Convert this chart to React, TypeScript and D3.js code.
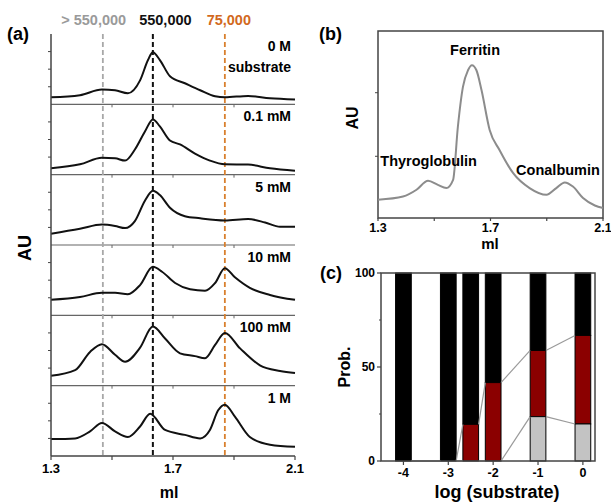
import React from "react";
import * as d3 from "d3";

// ---------- Panel (a): elution traces, [ml, relative AU within strip] ----------
const trace0M: [number, number][] = [
  [1.3, 0.1], [1.395, 0.13], [1.467, 0.21], [1.51, 0.2], [1.552, 0.157], [1.592, 0.34],
  [1.618, 0.63], [1.634, 0.74], [1.657, 0.63], [1.69, 0.4], [1.739, 0.3], [1.789, 0.2],
  [1.838, 0.114], [1.87, 0.1], [1.946, 0.12], [2.018, 0.086], [2.1, 0.07],
];
const trace01mM: [number, number][] = [
  [1.3, 0.09], [1.395, 0.147], [1.467, 0.24], [1.51, 0.233], [1.543, 0.2], [1.575, 0.357],
  [1.608, 0.614], [1.634, 0.786], [1.657, 0.686], [1.69, 0.486], [1.723, 0.43], [1.772, 0.3],
  [1.821, 0.2], [1.87, 0.147], [1.946, 0.143], [2.018, 0.09], [2.1, 0.057],
];
const trace5mM: [number, number][] = [
  [1.3, 0.16], [1.395, 0.23], [1.467, 0.29], [1.51, 0.27], [1.543, 0.24], [1.575, 0.34],
  [1.608, 0.63], [1.634, 0.77], [1.657, 0.71], [1.69, 0.53], [1.739, 0.41], [1.789, 0.38],
  [1.87, 0.35], [1.946, 0.37], [2.002, 0.32], [2.051, 0.26], [2.1, 0.26],
];
const trace10mM: [number, number][] = [
  [1.3, 0.22], [1.395, 0.26], [1.467, 0.32], [1.51, 0.32], [1.552, 0.3], [1.592, 0.43],
  [1.634, 0.69], [1.664, 0.62], [1.707, 0.46], [1.756, 0.37], [1.805, 0.35], [1.838, 0.46],
  [1.87, 0.67], [1.903, 0.54], [1.952, 0.39], [2.018, 0.29], [2.1, 0.22],
];
const trace100mM: [number, number][] = [
  [1.3, 0.14], [1.379, 0.22], [1.428, 0.48], [1.467, 0.59], [1.51, 0.44], [1.543, 0.34],
  [1.592, 0.54], [1.634, 0.84], [1.674, 0.67], [1.723, 0.46], [1.772, 0.42], [1.805, 0.39],
  [1.838, 0.58], [1.87, 0.75], [1.92, 0.53], [1.985, 0.29], [2.051, 0.21], [2.1, 0.18],
];
const trace1M: [number, number][] = [
  [1.3, 0.24], [1.379, 0.25], [1.428, 0.35], [1.467, 0.47], [1.51, 0.35], [1.552, 0.27],
  [1.592, 0.42], [1.625, 0.6], [1.674, 0.37], [1.739, 0.3], [1.789, 0.25], [1.821, 0.37],
  [1.848, 0.65], [1.87, 0.73], [1.903, 0.56], [1.952, 0.27], [2.018, 0.16], [2.1, 0.13],
];
const traces = [trace0M, trace01mM, trace5mM, trace10mM, trace100mM, trace1M];
const stripLabels = [["0 M", "substrate"], ["0.1 mM"], ["5 mM"], ["10 mM"], ["100 mM"], ["1 M"]];
const refLines = [1.47, 1.634, 1.87];
const refLabels = ["> 550,000", "550,000", "75,000"];
const refLabelAt = [1.44, 1.675, 1.883];
const refColors = ["#a8a8a8", "#111111", "#d9802e"];
const refTextColors = ["#9a9a9a", "#111111", "#d2691e"];
const mlTicksMajor = [1.3, 1.7, 2.1];
const mlTicksMinor = [1.5, 1.9];

// ---------- Panel (b): standards ----------
const standards: [number, number][] = [
  [1.3, 0.098], [1.389, 0.115], [1.437, 0.151], [1.478, 0.199], [1.513, 0.177], [1.543, 0.16],
  [1.567, 0.204], [1.584, 0.488], [1.602, 0.701], [1.62, 0.79], [1.634, 0.817], [1.65, 0.79],
  [1.668, 0.684], [1.697, 0.471], [1.732, 0.364], [1.78, 0.241], [1.839, 0.16], [1.899, 0.124],
  [1.934, 0.16], [1.964, 0.19], [1.993, 0.168], [2.029, 0.107], [2.071, 0.067], [2.1, 0.053],
];
const standardNames = ["Thyroglobulin", "Ferritin", "Conalbumin"];
const standardPos: [number, number][] = [[1.48, 0.28], [1.645, 0.87], [1.94, 0.232]];

// ---------- Panel (c): probabilities ----------
const logSubstrate = [-4, -3, -2.5, -2, -1, 0];
const probGray = [0, 0, 0, 0, 23.6, 19.7];
const probRed = [0, 0, 19.5, 41.7, 35.2, 47.1];
const probTicks = [0, 50, 100];
const probMinor = [25, 75];
const logTicks = [-4, -3, -2, -1, 0];

const FONT = "'Liberation Sans', Arial, sans-serif";

export default function App() {
  // Panel (a)
  const ax = d3.scaleLinear().domain([1.3, 2.1]).range([51, 295]);
  const aTop = 34, aBottom = 456;
  const stripH = (aBottom - aTop) / traces.length;
  const axisColor = "#444";

  // Panel (b)
  const bx = d3.scaleLinear().domain([1.3, 2.1]).range([378, 603]);
  const by = d3.scaleLinear().domain([0, 1]).range([218, 31]);
  const bLine = d3.line<[number, number]>().x(d => bx(d[0])).y(d => by(d[1])).curve(d3.curveMonotoneX);

  // Panel (c)
  const cx = d3.scaleLinear().domain([-4.5, 0.27]).range([381, 595]);
  const cy = d3.scaleLinear().domain([0, 100]).range([461, 273]);
  const barW = cx(0.35) - cx(0);
  const stacks = logSubstrate.map((v, i) => {
    const g = probGray[i];
    const r = probRed[i];
    return { v, g, r: g + r, b: 100 };
  });
  const connectors: { x1: number; y1: number; x2: number; y2: number }[] = [];
  for (let i = 0; i < stacks.length - 1; i++) {
    const a = stacks[i], b = stacks[i + 1];
    (["g", "r"] as const).forEach(k => {
      connectors.push({
        x1: cx(a.v) + barW / 2, y1: cy(a[k]),
        x2: cx(b.v) - barW / 2, y2: cy(b[k]),
      });
    });
  }

  return (
    <svg width={611} height={503} style={{ position: "absolute", left: 0, top: 0, background: "#fff" }} fontFamily={FONT}>
      {/* ===== Panel (a) ===== */}
      <text x={7} y={40} fontSize={18} fontWeight="bold">(a)</text>
      {refLabels.map((s, i) => (
        <text key={"rl" + i} x={ax(refLabelAt[i])} y={25} fontSize={14.5} fontWeight="bold"
          fill={refTextColors[i]} textAnchor="middle">{s}</text>
      ))}
      {traces.map((tr, i) => {
        const top = aTop + i * stripH;
        const y = d3.scaleLinear().domain([0, 1]).range([top + stripH, top]);
        return (
          <g key={"strip" + i}>
            {[0.25, 0.5, 0.75].map(f => (
              <line key={f} x1={ax(1.3) - 3} x2={ax(1.3)} y1={y(f)} y2={y(f)} stroke={axisColor} strokeWidth={1} />
            ))}
            {i > 0 && <line x1={ax(1.3)} x2={ax(2.1)} y1={top} y2={top} stroke="#666" strokeWidth={1.2} />}
            {i > 0 && [1.5, 1.7, 1.9].map(t => (
              <line key={t} x1={ax(t)} x2={ax(t)} y1={top} y2={top + 3} stroke="#666" strokeWidth={1} />
            ))}
          </g>
        );
      })}
      {refLines.map((m, i) => (
        <line key={"dl" + i} x1={ax(m)} x2={ax(m)} y1={aTop} y2={aBottom} stroke={refColors[i]}
          strokeWidth={i === 1 ? 2 : 1.8} strokeDasharray="5,3" />
      ))}
      {traces.map((tr, i) => {
        const top = aTop + i * stripH;
        const y = d3.scaleLinear().domain([0, 1]).range([top + stripH, top]);
        const line = d3.line<[number, number]>().x(d => ax(d[0])).y(d => y(d[1])).curve(d3.curveMonotoneX);
        return (
          <g key={"tr" + i}>
            <path d={line(tr) ?? ""} fill="none" stroke="#111" strokeWidth={2} />
            {stripLabels[i].map((s, j) => (
              <text key={j} x={291} y={top + 17 + j * 21} fontSize={14} fontWeight="bold" textAnchor="end">{s}</text>
            ))}
          </g>
        );
      })}
      <line x1={ax(1.3)} x2={ax(1.3)} y1={aTop} y2={aBottom} stroke={axisColor} strokeWidth={1.5} />
      <line x1={ax(1.3)} x2={ax(2.1)} y1={aBottom} y2={aBottom} stroke={axisColor} strokeWidth={1.5} />
      {[...mlTicksMajor, ...mlTicksMinor].map(t => (
        <line key={"at" + t} x1={ax(t)} x2={ax(t)} y1={aBottom} y2={aBottom + 4} stroke={axisColor} strokeWidth={1.2} />
      ))}
      {mlTicksMajor.map(t => (
        <text key={"atl" + t} x={ax(t)} y={473} fontSize={13} fontWeight="bold" textAnchor="middle">{t.toFixed(1)}</text>
      ))}
      <text x={169} y={498} fontSize={16} fontWeight="bold" textAnchor="middle">ml</text>
      <text transform="translate(31,248) rotate(-90)" fontSize={18} fontWeight="bold" textAnchor="middle">AU</text>

      {/* ===== Panel (b) ===== */}
      <text x={319} y={40} fontSize={18} fontWeight="bold">(b)</text>
      <rect x={bx(1.3)} y={by(1)} width={bx(2.1) - bx(1.3)} height={by(0) - by(1)} fill="none" stroke={axisColor} strokeWidth={1.5} />
      {[0.33, 0.67].map(f => (
        <line key={"bt" + f} x1={bx(1.3) - 3} x2={bx(1.3)} y1={by(f)} y2={by(f)} stroke={axisColor} strokeWidth={1} />
      ))}
      {[...mlTicksMajor, ...mlTicksMinor].map(t => (
        <line key={"bxt" + t} x1={bx(t)} x2={bx(t)} y1={by(0)} y2={by(0) + 3} stroke={axisColor} strokeWidth={1.2} />
      ))}
      {mlTicksMajor.map(t => (
        <text key={"bxl" + t} x={bx(t)} y={232} fontSize={12.5} fontWeight="bold" textAnchor="middle">{t.toFixed(1)}</text>
      ))}
      <path d={bLine(standards) ?? ""} fill="none" stroke="#8c8c8c" strokeWidth={2} />
      {standardNames.map((n, i) => (
        <text key={n} x={bx(standardPos[i][0])} y={by(standardPos[i][1])} fontSize={14.5} fontWeight="bold" textAnchor="middle">{n}</text>
      ))}
      <text x={490} y={249} fontSize={15} fontWeight="bold" textAnchor="middle">ml</text>
      <text transform="translate(358,118) rotate(-90)" fontSize={16} fontWeight="bold" textAnchor="middle">AU</text>

      {/* ===== Panel (c) ===== */}
      <text x={320} y={279} fontSize={18} fontWeight="bold">(c)</text>
      {stacks.map((s, i) => (
        <g key={"bar" + i}>
          <rect x={cx(s.v) - barW / 2} y={cy(s.b)} width={barW} height={cy(s.r) - cy(s.b)} fill="#000" stroke="#000" strokeWidth={1} />
          {s.r > s.g && <rect x={cx(s.v) - barW / 2} y={cy(s.r)} width={barW} height={cy(s.g) - cy(s.r)} fill="#8b0000" stroke="#000" strokeWidth={1} />}
          {s.g > 0 && <rect x={cx(s.v) - barW / 2} y={cy(s.g)} width={barW} height={cy(0) - cy(s.g)} fill="#c3c3c3" stroke="#000" strokeWidth={1} />}
        </g>
      ))}
      {connectors.map((c, i) => (
        <line key={"cn" + i} {...c} stroke="#9a9a9a" strokeWidth={1.2} />
      ))}
      <rect x={cx(-4.5)} y={cy(100)} width={cx(0.27) - cx(-4.5)} height={cy(0) - cy(100)} fill="none" stroke={axisColor} strokeWidth={1.5} />
      {probTicks.map(t => (
        <g key={"cy" + t}>
          <line x1={cx(-4.5) - 4} x2={cx(-4.5)} y1={cy(t)} y2={cy(t)} stroke={axisColor} strokeWidth={1.2} />
          <text x={375} y={cy(t) + 4} fontSize={12} fontWeight="bold" textAnchor="end">{t}</text>
        </g>
      ))}
      {probMinor.map(t => (
        <line key={"cym" + t} x1={cx(-4.5) - 2} x2={cx(-4.5)} y1={cy(t)} y2={cy(t)} stroke={axisColor} strokeWidth={1} />
      ))}
      {logTicks.map(t => (
        <g key={"cx" + t}>
          <line x1={cx(t)} x2={cx(t)} y1={cy(0)} y2={cy(0) + 4} stroke={axisColor} strokeWidth={1.2} />
          <text x={cx(t)} y={477} fontSize={12.5} fontWeight="bold" textAnchor="middle">{t}</text>
        </g>
      ))}
      <text x={497} y={498} fontSize={18} fontWeight="bold" textAnchor="middle">log (substrate)</text>
      <text transform="translate(350,367) rotate(-90)" fontSize={16} fontWeight="bold" textAnchor="middle">Prob.</text>
    </svg>
  );
}
